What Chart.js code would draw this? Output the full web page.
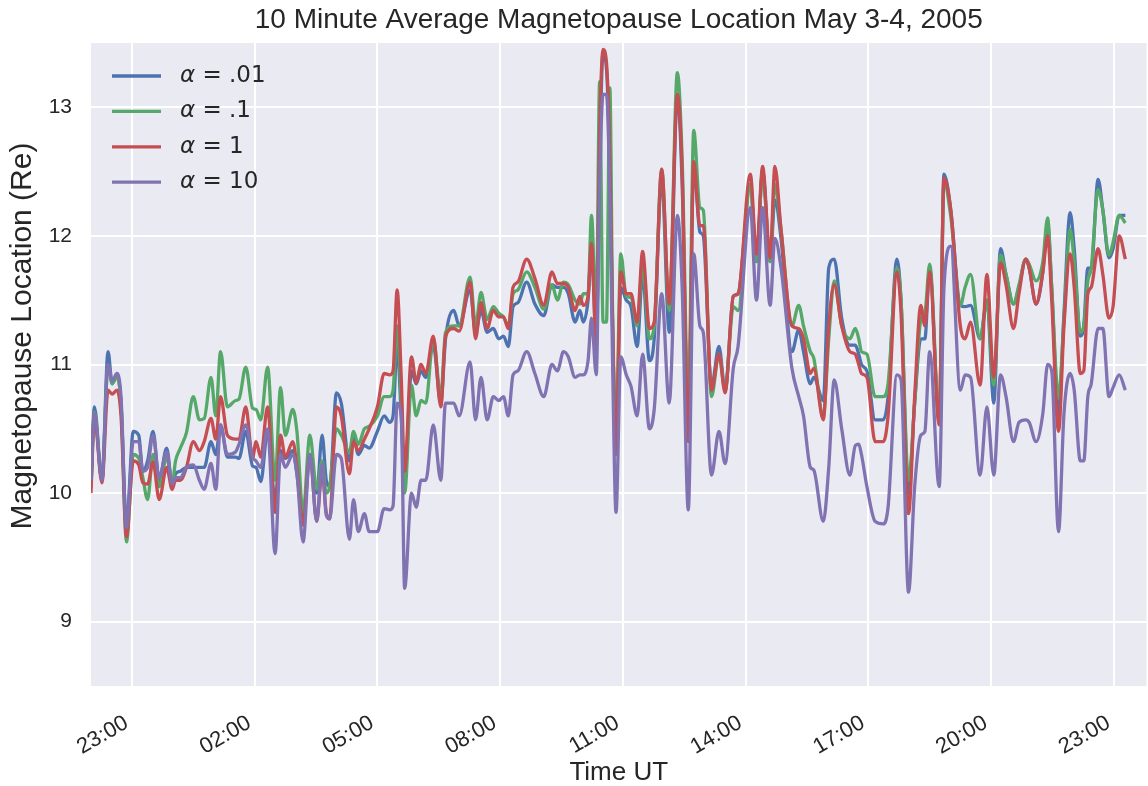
<!DOCTYPE html>
<html>
<head>
<meta charset="utf-8">
<title>Magnetopause location</title>
<script src="https://cdn.jsdelivr.net/npm/chart.js@4.4.1/dist/chart.umd.min.js"></script>
<style>
    body { margin: 0; background: #ffffff; }
    #wrap { width: 1148px; height: 786px; }
</style>
</head>
<body>
<div id="wrap"><canvas id="LineChart_mp" width="1148" height="786"></canvas></div>
<script>
// время: минуты после 22:00 UT, 3 мая 2005
const minutes = [
    0, 5, 16, 25, 31, 38, 44, 52, 62, 70, 76, 83, 91, 100, 111, 119, 124, 131, 140, 150, 159, 166, 176, 183, 190, 200, 212,
    217, 227, 237, 242, 249, 259, 270, 278, 285, 296, 302, 311, 321, 331, 339, 345, 350, 360, 367, 379, 385, 392, 401, 408, 420, 430,
    438, 443, 449, 455, 460, 470, 477, 484, 491, 502, 513, 520, 532, 540, 556, 564, 572, 581, 590, 598, 605, 612, 619, 626, 639, 651,
    664, 676, 684, 693, 700, 710, 717, 722, 729, 734, 741, 746, 751, 756, 761, 765, 770, 777, 785, 792, 801, 809, 819, 826, 837, 848, 860,
    867, 876, 884, 893, 898, 910, 921, 930, 942, 949, 967, 976, 985, 996, 1003, 1012, 1028, 1038, 1045, 1055, 1060, 1074, 1082,
    1090, 1101, 1113, 1121, 1126, 1130, 1138, 1150, 1162, 1169, 1182, 1188, 1199, 1208, 1217, 1223, 1230, 1244, 1251, 1261, 1275, 1282, 1290,
    1304, 1314, 1324, 1334, 1342, 1353, 1361, 1371, 1376, 1386, 1396, 1403, 1409, 1419, 1427, 1436, 1442, 1451, 1456, 1462, 1467, 1477, 1484, 1493, 1499, 1508, 1517
];

// alpha = .01
const alpha_001 = [
    10.05, 10.67, 10.1, 11.1, 10.85, 10.92, 10.7, 9.75, 10.48, 10.45, 10.17, 10.25, 10.48, 10.1, 10.35, 10.07, 10.15, 10.17, 10.2, 10.2, 10.2, 10.2, 10.4, 10.3, 10.53, 10.28, 10.28,
    10.27, 10.48, 10.21, 10.2, 10.09, 10.48, 9.95, 10.33, 10.27, 10.33, 10.15, 9.8, 10.3, 10.0, 10.45, 10.1, 10.05, 10.78, 10.7, 10.25, 10.45, 10.3, 10.37, 10.35, 10.48, 10.6,
    10.55, 10.6, 11.15, 10.6, 10.1, 10.95, 10.85, 10.95, 10.9, 11.15, 10.7, 11.2, 11.42, 11.3, 11.58, 11.25, 11.42, 11.25, 11.28, 11.2, 11.22, 11.14, 11.45, 11.48, 11.64, 11.47,
    11.38, 11.62, 11.6, 11.6, 11.55, 11.33, 11.42, 11.33, 11.5, 11.9, 11.2, 12.6, 13.42, 13.3, 12.5, 11.3, 10.35, 11.6, 11.5, 11.45, 11.14, 11.7, 11.03, 11.2, 12.45, 11.25, 13.1,
    12.4, 10.5, 12.55, 12.03, 12.0, 10.83, 11.14, 10.8, 11.53, 11.55, 12.4, 11.8, 12.5, 11.8, 12.28, 11.98, 11.1, 11.27, 11.1, 10.85, 10.9, 10.72, 11.75,
    11.82, 11.36, 11.15, 11.15, 11.08, 11.0, 10.95, 10.57, 10.57, 10.75, 11.82, 11.5, 10.0, 10.7, 11.2, 11.2, 11.75, 10.55, 12.48, 12.2, 11.46, 11.45, 11.46,
    11.2, 11.5, 10.7, 11.9, 11.7, 11.47, 11.6, 11.82, 11.75, 11.47, 11.72, 12.1, 11.6, 10.6, 11.4, 12.18, 11.9, 11.22, 11.3, 11.75, 11.75, 12.44, 12.2, 11.83, 11.9, 12.16, 12.16
];

// alpha = .1
const alpha_01 = [
    10.05, 10.63, 10.1, 11.0, 10.85, 10.9, 10.7, 9.62, 10.3, 10.27, 10.12, 9.95, 10.3, 10.05, 10.28, 10.07, 10.25, 10.35, 10.47, 10.75, 10.57, 10.58, 10.9, 10.6, 11.1, 10.67, 10.72,
    10.73, 10.98, 10.66, 10.65, 10.57, 10.98, 10.1, 10.82, 10.45, 10.65, 10.48, 9.85, 10.45, 10.03, 10.25, 10.0, 10.05, 10.5, 10.45, 10.32, 10.48, 10.38, 10.5, 10.52, 10.6, 10.75,
    10.75, 10.8, 11.3, 10.7, 10.0, 10.84, 10.6, 10.72, 10.7, 11.2, 10.75, 11.25, 11.3, 11.3, 11.68, 11.3, 11.56, 11.35, 11.45, 11.4, 11.37, 11.3, 11.55, 11.58, 11.72, 11.6,
    11.43, 11.62, 11.5, 11.64, 11.62, 11.5, 11.47, 11.55, 11.55, 12.16, 11.36, 13.2, 11.33, 11.33, 13.15, 11.4, 10.5, 11.86, 11.53, 11.52, 11.3, 11.78, 11.2, 11.3, 12.52, 11.42, 13.27,
    12.6, 10.7, 12.82, 12.22, 12.2, 10.75, 11.08, 10.8, 11.45, 11.42, 12.4, 11.8, 12.5, 11.8, 12.4, 12.05, 11.3, 11.46, 11.3, 11.1, 11.05, 10.6, 11.2,
    11.65, 11.3, 11.2, 11.28, 11.2, 11.1, 11.08, 10.75, 10.75, 10.85, 11.75, 11.5, 10.1, 10.7, 11.35, 11.4, 11.78, 10.6, 12.42, 12.15, 11.46, 11.6, 11.7,
    11.2, 11.5, 10.84, 11.85, 11.7, 11.47, 11.62, 11.82, 11.78, 11.65, 11.8, 12.14, 11.6, 10.75, 11.35, 12.05, 11.8, 11.25, 11.3, 11.65, 11.75, 12.36, 12.2, 11.85, 11.95, 12.16, 12.1
];

// alpha = 1
const alpha_1 = [
    10.0, 10.6, 10.08, 10.8, 10.77, 10.8, 10.6, 9.66, 10.25, 10.22, 10.08, 10.07, 10.24, 9.95, 10.2, 10.03, 10.1, 10.1, 10.2, 10.4, 10.33, 10.4, 10.58, 10.42, 10.75, 10.45, 10.42,
    10.42, 10.67, 10.27, 10.4, 10.28, 10.67, 9.85, 10.45, 10.28, 10.4, 10.2, 9.75, 10.3, 9.78, 10.17, 9.85, 9.8, 10.67, 10.6, 10.15, 10.4, 10.33, 10.42, 10.5, 10.67, 10.93,
    10.92, 10.95, 11.58, 10.9, 10.17, 11.06, 10.86, 11.0, 10.93, 11.22, 10.67, 11.22, 11.28, 11.26, 11.64, 11.2, 11.48, 11.28, 11.42, 11.37, 11.37, 11.28, 11.6, 11.64, 11.82, 11.67,
    11.46, 11.72, 11.63, 11.63, 11.6, 11.42, 11.53, 11.46, 11.53, 11.94, 11.15, 12.8, 13.45, 13.35, 12.6, 11.3, 10.3, 11.72, 11.55, 11.55, 11.33, 11.88, 11.28, 11.33, 12.52, 11.47, 13.1,
    12.5, 10.4, 12.58, 12.08, 12.08, 10.8, 11.08, 10.78, 11.53, 11.55, 12.48, 11.86, 12.54, 11.83, 12.54, 12.05, 11.3, 11.28, 11.2, 10.93, 10.97, 10.57, 11.3,
    11.62, 11.3, 11.1, 11.08, 11.0, 10.93, 10.9, 10.4, 10.4, 10.6, 11.72, 11.4, 9.84, 10.75, 11.46, 11.3, 11.72, 10.53, 12.45, 12.2, 11.3, 11.2, 11.33,
    10.84, 11.7, 10.9, 11.79, 11.62, 11.28, 11.55, 11.82, 11.75, 11.47, 11.72, 12.0, 11.5, 10.48, 11.3, 11.86, 11.6, 10.93, 10.95, 11.55, 11.6, 11.9, 11.7, 11.36, 11.45, 12.0, 11.82
];

// alpha = 10
const alpha_10 = [
    10.1, 10.62, 10.1, 11.0, 10.87, 10.93, 10.75, 9.73, 10.4, 10.4, 10.17, 10.2, 10.45, 10.12, 10.32, 10.07, 10.12, 10.12, 10.2, 10.22, 10.1, 10.03, 10.23, 10.03, 10.53, 10.3, 10.32,
    10.38, 10.53, 10.28, 10.25, 10.2, 10.5, 9.53, 10.3, 10.2, 10.3, 10.15, 9.62, 10.3, 9.78, 10.23, 9.83, 9.8, 10.3, 10.27, 9.64, 9.95, 9.7, 9.84, 9.7, 9.7, 9.88,
    9.87, 9.9, 10.7, 10.6, 9.26, 10.0, 9.89, 10.1, 10.1, 10.53, 10.1, 10.7, 10.7, 10.6, 11.02, 10.57, 10.9, 10.57, 10.75, 10.72, 10.75, 10.6, 10.92, 10.95, 11.1, 10.93,
    10.75, 11.0, 10.95, 11.1, 11.06, 10.9, 10.92, 10.92, 11.03, 11.36, 10.92, 12.4, 13.1, 13.1, 12.3, 11.0, 9.85, 11.06, 10.92, 10.83, 10.6, 11.08, 10.5, 10.65, 11.55, 10.7, 12.16,
    11.6, 9.87, 11.86, 11.3, 11.25, 10.14, 10.48, 10.23, 10.97, 11.14, 12.22, 11.5, 12.22, 11.46, 11.98, 11.75, 10.97, 10.75, 10.6, 10.2, 10.18, 9.78, 10.2,
    10.88, 10.5, 10.14, 10.37, 10.38, 10.3, 10.05, 9.78, 9.76, 9.89, 10.92, 10.88, 9.23, 10.05, 10.45, 10.48, 11.1, 10.05, 11.6, 11.92, 10.8, 10.92, 10.9,
    10.14, 10.67, 10.14, 10.92, 10.75, 10.4, 10.55, 10.57, 10.55, 10.4, 10.62, 11.0, 10.95, 9.7, 10.62, 10.93, 10.8, 10.25, 10.25, 10.75, 10.85, 11.28, 11.28, 10.75, 10.82, 10.92, 10.8
];

const seriesNames = ['.01', '.1', '1', '10'];
const seriesColors = ['#4C72B0', '#55A868', '#C44E52', '#8172B2'];
const yTicks = [9, 10, 11, 12, 13];
const xTickMinutes = [60, 240, 420, 600, 780, 960, 1140, 1320, 1500];
const xTickLabels = ['23:00', '02:00', '05:00', '08:00', '11:00', '14:00', '17:00', '20:00', '23:00'];

const textColor = '#262626';
const fontFamily = "'Liberation Sans', Arial, sans-serif";

function toPoints(values) {
    return minutes.map((m, i) => ({ x: m, y: values[i] }));
}

// фон области графика (seaborn darkgrid)
const plotBackground = {
    id: 'plotBackground',
    beforeDraw(chart) {
        const { ctx, chartArea } = chart;
        ctx.save();
        ctx.fillStyle = '#EAEAF2';
        ctx.fillRect(chartArea.left, chartArea.top, chartArea.right - chartArea.left, chartArea.bottom - chartArea.top);
        ctx.restore();
    }
};

// подпись оси Y рисуем сами: в оригинале она сдвинута вверх от центра
const yAxisTitle = {
    id: 'yAxisTitle',
    afterDraw(chart) {
        const { ctx } = chart;
        ctx.save();
        ctx.translate(23, 336);
        ctx.rotate(-Math.PI / 2);
        ctx.textAlign = 'center';
        ctx.textBaseline = 'middle';
        ctx.fillStyle = textColor;
        ctx.font = '30px ' + fontFamily;
        ctx.fillText('Magnetopause Location (Re)', 0, 0);
        ctx.restore();
    }
};

// легенда внутри области графика, слева сверху
const alphaLegend = {
    id: 'alphaLegend',
    afterDraw(chart) {
        const { ctx, chartArea } = chart;
        ctx.save();
        ctx.textBaseline = 'middle';
        chart.data.datasets.forEach((ds, i) => {
            const y = chartArea.top + 33 + i * 35.4;
            ctx.strokeStyle = ds.borderColor;
            ctx.lineWidth = 3.3;
            ctx.beginPath();
            ctx.moveTo(chartArea.left + 21, y);
            ctx.lineTo(chartArea.left + 70, y);
            ctx.stroke();

            const x0 = chartArea.left + 89;
            ctx.fillStyle = textColor;
            ctx.font = 'italic 23px "DejaVu Sans"';
            ctx.fillText('α', x0, y);
            const aw = ctx.measureText('α').width;
            ctx.font = '23px "DejaVu Sans"';
            ctx.fillText(' = ' + seriesNames[i], x0 + aw, y);
        });
        ctx.restore();
    }
};

function LineChart_magnetopause() {
    const values = [alpha_001, alpha_01, alpha_1, alpha_10];
    const datasets = values.map((v, i) => ({
        label: 'α = ' + seriesNames[i],
        data: toPoints(v),
        borderColor: seriesColors[i],
        backgroundColor: seriesColors[i],
        borderWidth: 3.3,
        pointRadius: 0,
        fill: false,
        cubicInterpolationMode: 'monotone',
        order: 4 - i   // фиолетовая линия сверху, как в оригинале
    }));

    const ctx = document.getElementById('LineChart_mp').getContext('2d');
    new Chart(ctx, {
        type: 'line',
        data: { datasets: datasets },
        options: {
            responsive: false,
            animation: false,
            devicePixelRatio: 1,
            layout: { padding: 0 },
            plugins: {
                legend: { display: false },
                tooltip: { enabled: false },
                title: {
                    display: true,
                    fullSize: false,
                    text: '10 Minute Average Magnetopause Location May 3-4, 2005',
                    color: textColor,
                    font: { family: fontFamily, size: 28, weight: 'normal', lineHeight: 1.2 },
                    padding: { top: 3, bottom: 6.4 }
                }
            },
            scales: {
                x: {
                    type: 'linear',
                    min: 0,
                    max: 1548,
                    afterBuildTicks: (scale) => { scale.ticks = xTickMinutes.map(v => ({ value: v })); },
                    afterFit: (scale) => { scale.height = 100; },
                    grid: { color: '#ffffff', lineWidth: 2, drawTicks: false },
                    border: { display: false },
                    ticks: {
                        autoSkip: false,
                        minRotation: 30,
                        maxRotation: 30,
                        padding: 21,
                        color: textColor,
                        font: { family: fontFamily, size: 22 },
                        // пробел в конце сдвигает подпись влево, как ha='right' в matplotlib
                        callback: (value, index) => xTickLabels[index] + ' '
                    },
                    title: {
                        display: true,
                        text: 'Time UT',
                        color: textColor,
                        font: { family: fontFamily, size: 26, lineHeight: 1 },
                        padding: { top: 0, bottom: 0 }
                    }
                },
                y: {
                    min: 8.5,
                    max: 13.5,
                    afterBuildTicks: (scale) => { scale.ticks = yTicks.map(v => ({ value: v })); },
                    afterFit: (scale) => { scale.width = 91; },
                    grid: { color: '#ffffff', lineWidth: 2, drawTicks: false },
                    border: { display: false },
                    ticks: {
                        padding: 19,
                        color: textColor,
                        font: { family: fontFamily, size: 21 }
                    }
                }
            }
        },
        plugins: [plotBackground, yAxisTitle, alphaLegend]
    });
}

LineChart_magnetopause();
</script>
</body>
</html>
